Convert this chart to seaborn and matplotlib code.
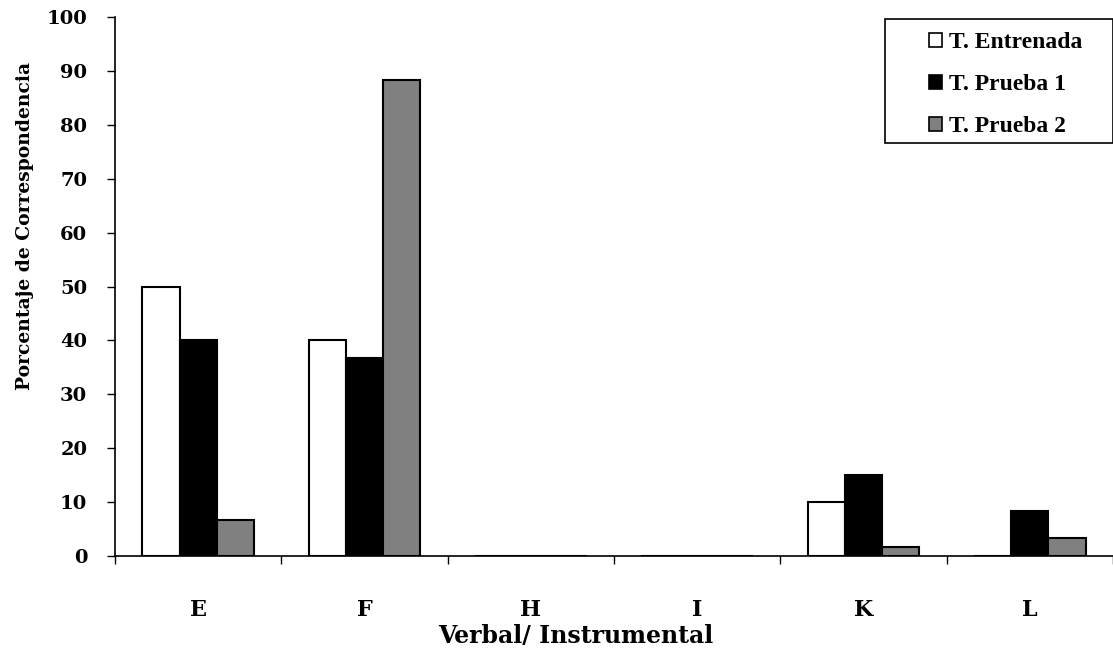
import matplotlib
matplotlib.use("Agg")
import matplotlib.pyplot as plt
import seaborn as sns
import pandas as pd
from matplotlib.patches import Patch, Rectangle
from matplotlib.font_manager import FontProperties

categories = ["E", "F", "H", "I", "K", "L"]
series_names = ["T. Entrenada", "T. Prueba 1", "T. Prueba 2"]
entrenada = [50.0, 40.0, 0.0, 0.0, 10.0, 0.0]
prueba1 = [40.0, 36.7, 0.0, 0.0, 15.0, 8.3]
prueba2 = [6.7, 88.3, 0.0, 0.0, 1.7, 3.3]
colors = ["#ffffff", "#000000", "#808080"]
yticks = [0, 10, 20, 30, 40, 50, 60, 70, 80, 90, 100]

rows = []
for name, vals in zip(series_names, [entrenada, prueba1, prueba2]):
    for c, v in zip(categories, vals):
        rows.append({"cat": c, "serie": name, "valor": v})
df = pd.DataFrame(rows)

sns.set_style("white")
plt.rcParams["text.color"] = "black"
fig = plt.figure(figsize=(11.13, 6.48), dpi=100)
ax = fig.add_axes([115 / 1113, 92 / 648, 998 / 1113, 539 / 648])

sns.barplot(data=df, x="cat", y="valor", hue="serie", order=categories,
            hue_order=series_names, palette=colors, width=0.67,
            edgecolor="black", linewidth=1.5, saturation=1, ax=ax, legend=False)

ax.set_xlim(-0.5, -0.5 + 998 / 168)
ax.set_ylim(0, 100)
ax.set_yticks(yticks)
ax.set_yticklabels([str(t) for t in yticks], fontfamily="DejaVu Serif",
                   fontweight="bold", fontsize=14, color="black")
ax.set_xticks(range(len(categories)))
ax.set_xticklabels(categories, fontfamily="DejaVu Serif", fontweight="bold",
                   fontsize=16, color="black")
ax.set_xticks([i - 0.5 for i in range(len(categories) + 1)], minor=True)
ax.tick_params(axis="x", which="major", length=0, pad=31)
ax.tick_params(axis="x", which="minor", length=6, width=1, direction="out",
               bottom=True, color="black")
ax.tick_params(axis="y", length=6, width=1, direction="out", left=True,
               color="black", pad=14)

for s in ["top", "right"]:
    ax.spines[s].set_visible(False)
for s in ["left", "bottom"]:
    ax.spines[s].set_color("black")
    ax.spines[s].set_linewidth(1.2)

ax.set_xlabel("")
ax.set_ylabel("")
fig.text(576 / 1113, 1 - 636 / 648, "Verbal/ Instrumental", ha="center",
         va="center", fontfamily="DejaVu Serif", fontweight="bold", fontsize=17)
fig.text(25 / 1113, 1 - 226 / 648, "Porcentaje de Correspondencia",
         rotation=90, ha="center", va="center", fontfamily="DejaVu Serif",
         fontweight="bold", fontsize=13.5)

# legend frame
fig.patches.append(Rectangle((885 / 1113, 1 - 143 / 648), 228 / 1113, 124 / 648,
                             transform=fig.transFigure, facecolor="white",
                             edgecolor="black", linewidth=1.2, zorder=5))

legend_font = FontProperties(family=["Liberation Serif", "DejaVu Serif"],
                             weight="bold", size=17)
handles = [Patch(facecolor=c, edgecolor="black", linewidth=1.2) for c in colors]
leg = fig.legend(handles, series_names, loc="upper left",
                 bbox_to_anchor=(929 / 1113, 1 - 32 / 648),
                 bbox_transform=fig.transFigure,
                 prop=legend_font, frameon=False,
                 handlelength=0.55, handleheight=0.55,
                 handletextpad=0.3, labelspacing=0.9, borderpad=0,
                 borderaxespad=0)
leg.set_zorder(6)

fig.savefig("out.png", dpi=100)
